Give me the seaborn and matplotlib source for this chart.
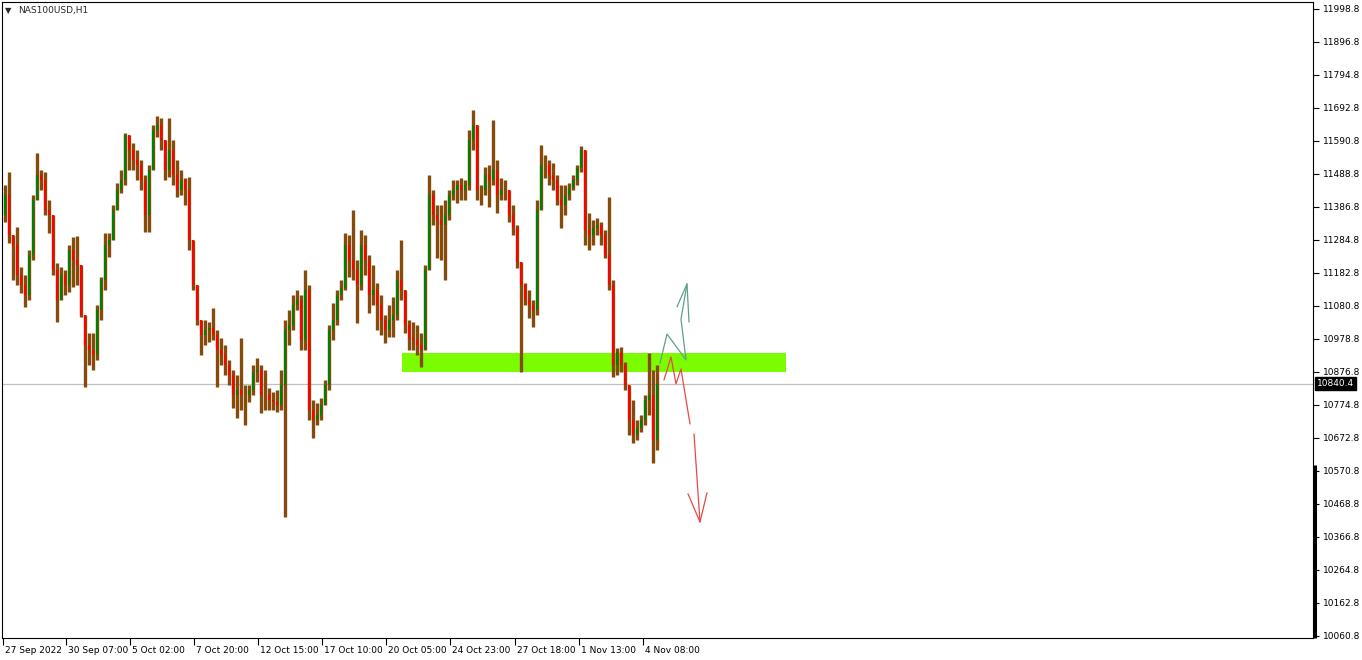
import numpy as np
import pandas as pd
import matplotlib
matplotlib.use("Agg")
import matplotlib.pyplot as plt
import matplotlib.transforms as mtransforms
from matplotlib.patches import Rectangle
import seaborn as sns

symbol = "NAS100USD,H1"
last_price = 10840.4
first_open = 11362

# 4-hour blocks (price units)
highs = [11455, 11495, 11294, 11325, 11201, 11177, 11254, 11424, 11554, 11501,
         11495, 11408, 11362, 11214, 11201, 11192, 11269, 11294, 11297, 11207,
         11022, 10997, 10997, 11084, 11170, 11306, 11306, 11393, 11461, 11501,
         11616, 11603, 11585, 11563, 11532, 11486, 11517, 11640, 11668, 11662,
         11594, 11662, 11594, 11532, 11501, 11476, 11479, 11285, 11146, 11037,
         11037, 11031, 11075, 11007, 10982, 10960, 10914, 10883, 10867, 10982,
         10836, 10836, 10898, 10920, 10898, 10883, 10827, 10815, 10821, 10883,
         11037, 11068, 11115, 11130, 11115, 11192, 11146, 10790, 10781, 10796,
         10852, 11022, 11090, 11130, 11161, 11306, 11300, 11377, 11223, 11316,
         11300, 11238, 11207, 11152, 11115, 11053, 11084, 11109, 11192, 11285,
         11105, 11037, 11031, 11022, 10997, 11207, 11486, 11439, 11393, 11393,
         11408, 11439, 11470, 11470, 11476, 11470, 11625, 11687, 11640, 11455,
         11510, 11517, 11656, 11532, 11476, 11470, 11424, 11393, 11331, 11217,
         11152, 11130, 11099, 11408, 11578, 11547, 11532, 11523, 11486, 11455,
         11455, 11461, 11486, 11517, 11575, 11563, 11368, 11347, 11353, 11340,
         11316, 11418, 11161, 10951, 10954, 10908, 10836, 10790, 10728, 10744,
         10806, 10935, 10883, 10898]

lows = [11340, 11275, 11161, 11146, 11121, 11078, 11099, 11223, 11408, 11439,
        11362, 11306, 11177, 11031, 11130, 11115, 11124, 11139, 11146, 11047,
        10830, 10898, 10883, 10914, 11037, 11130, 11232, 11285, 11377, 11430,
        11455, 11501, 11501, 11470, 11439, 11309, 11309, 11532, 11603, 11563,
        11470, 11479, 11455, 11418, 11424, 11393, 11254, 11130, 11022, 10929,
        10960, 10969, 10976, 10830, 10898, 10867, 10836, 10765, 10734, 10759,
        10713, 10784, 10806, 10846, 10750, 10759, 10759, 10759, 10753, 10759,
        10428, 10960, 11007, 11068, 10945, 10945, 10728, 10673, 10713, 10728,
        10775, 10821, 10976, 11022, 11099, 11130, 11170, 11161, 11028, 11130,
        11177, 11059, 11084, 11007, 10991, 10966, 10985, 10985, 11037, 11099,
        10997, 10945, 10945, 10929, 10892, 10960, 11192, 11331, 11229, 11223,
        11161, 11347, 11408, 11399, 11408, 11408, 11439, 11563, 11408, 11393,
        11424, 11387, 11455, 11368, 11408, 11408, 11340, 11300, 11198, 10877,
        11084, 11044, 11016, 11053, 11377, 11476, 11455, 11439, 11393, 11322,
        11362, 11408, 11439, 11455, 11495, 11269, 11254, 11269, 11300, 11269,
        11229, 11130, 10861, 10867, 10877, 10821, 10682, 10657, 10666, 10691,
        10713, 10744, 10595, 10636]

closes = [11424, 11300, 11269, 11177, 11146, 11115, 11238, 11408, 11486, 11470,
          11377, 11362, 11192, 11099, 11177, 11146, 11254, 11223, 11207, 11053,
          10960, 10945, 10929, 11068, 11161, 11269, 11285, 11377, 11439, 11470,
          11609, 11563, 11532, 11517, 11470, 11362, 11501, 11625, 11640, 11594,
          11501, 11563, 11486, 11439, 11470, 11439, 11285, 11146, 11037, 10991,
          11007, 11013, 10991, 10945, 10929, 10898, 10867, 10806, 10821, 10806,
          10806, 10821, 10877, 10883, 10806, 10806, 10790, 10784, 10775, 10836,
          11007, 11022, 11084, 11099, 10976, 11130, 10759, 10728, 10744, 10775,
          10836, 11007, 11037, 11115, 11136, 11269, 11223, 11192, 11146, 11269,
          11223, 11115, 11130, 11084, 11037, 11007, 11037, 11053, 11161, 11130,
          11022, 10982, 10976, 10960, 10945, 11192, 11424, 11362, 11347, 11331,
          11362, 11424, 11439, 11455, 11439, 11455, 11594, 11640, 11439, 11439,
          11486, 11470, 11501, 11424, 11439, 11439, 11362, 11322, 11217, 11146,
          11099, 11084, 11068, 11377, 11517, 11517, 11486, 11470, 11408, 11393,
          11424, 11445, 11470, 11507, 11563, 11316, 11300, 11322, 11331, 11300,
          11238, 11146, 10898, 10939, 10898, 10836, 10728, 10682, 10704, 10728,
          10790, 10806, 10666, 10840.4]

date_ticks = [0, 63, 127, 191, 255, 319, 383, 447, 512, 576, 640]
date_labels = ["27 Sep 2022", "30 Sep 07:00", "5 Oct 02:00", "7 Oct 20:00",
               "12 Oct 15:00", "17 Oct 10:00", "20 Oct 05:00", "24 Oct 23:00",
               "27 Oct 18:00", "1 Nov 13:00", "4 Nov 08:00"]
price_ticks = [11998.8, 11896.8, 11794.8, 11692.8, 11590.8, 11488.8, 11386.8,
               11284.8, 11182.8, 11080.8, 10978.8, 10876.8, 10774.8, 10672.8,
               10570.8, 10468.8, 10366.8, 10264.8, 10162.8, 10060.8]

# support zone (bar index, price)
zone_start, zone_end = 399, 783
zone_low, zone_high = 10876.7, 10935.5

# hand drawn scenario arrows (bar index, price)
up_path_x = [657, 664, 683, 678, 684]
up_path_y = [10904, 10994, 10914, 11040, 11149]
up_head_x = [674, 684, 686]
up_head_y = [11078, 11149, 11031]
down_path_x = [661, 668, 673, 678, 687]
down_path_y = [10852, 10923, 10840, 10886, 10716]
down_tail_x = [691, 697]
down_tail_y = [10685, 10413]
down_head_x = [685, 697, 704]
down_head_y = [10500, 10413, 10503]

df = pd.DataFrame({"high": highs, "low": lows, "close": closes})
df["open"] = [first_open] + closes[:-1]
df["bar"] = np.arange(len(df)) * 4 + 1.5
df["top"] = df[["high", "open", "close"]].max(axis=1)
df["bottom"] = df[["low", "open", "close"]].min(axis=1)
up = df["close"] >= df["open"]

sns.set_theme(style="white")
plt.rcParams["font.family"] = ["DejaVu Sans"]

fig = plt.figure(figsize=(13.62, 6.60), dpi=100)
ax = fig.add_axes([2 / 1362, 22 / 660, 1311 / 1362, 636 / 660])

ax.add_patch(Rectangle((zone_start, zone_low), zone_end - zone_start, zone_high - zone_low,
                       facecolor="#7cfc00", edgecolor="none", zorder=1))
ax.axhline(last_price, color="#c0c0c0", lw=0.9, zorder=1)

ax.vlines(df["bar"], df["bottom"], df["top"], color="#854b0b", lw=2.4, zorder=2)
ax.vlines(df["bar"][up], df["open"][up], df["close"][up], color="#008000", lw=1.5, zorder=3)
ax.vlines(df["bar"][~up], df["close"][~up], df["open"][~up], color="#ff0000", lw=1.5, zorder=3)

teal = "#5fa08c"
red = "#e84848"
for xs, ys, c in [(up_path_x, up_path_y, teal), (up_head_x, up_head_y, teal),
                  (down_path_x, down_path_y, red), (down_tail_x, down_tail_y, red),
                  (down_head_x, down_head_y, red)]:
    sns.lineplot(x=xs, y=ys, sort=False, estimator=None, color=c, lw=0.9, ax=ax, zorder=4)

ax.set_xlim(-1, 1310)
ax.set_ylim(10054.3, 12020.4)

ax.yaxis.tick_right()
ax.set_yticks(price_ticks, labels=[f"{v:.1f}" for v in price_ticks])
ax.tick_params(axis="y", direction="out", length=4, width=0.8, pad=3,
               labelsize=6.5, colors="black", right=True, left=False)
ax.set_xticks(date_ticks, labels=date_labels)
ax.tick_params(axis="x", direction="out", length=5, width=0.8, pad=1,
               labelsize=6.5, colors="black", bottom=True)
shift = mtransforms.ScaledTranslation(2 / 100, 0, fig.dpi_scale_trans)
for lbl in ax.get_xticklabels():
    lbl.set_ha("left")
    lbl.set_transform(lbl.get_transform() + shift)

for s in ax.spines.values():
    s.set_color("black")
    s.set_linewidth(0.8)

# scroll marker on the price scale
ax.plot([1.0015, 1.0015], [0, 0.272], transform=ax.transAxes, color="black",
        lw=2.2, clip_on=False, solid_capstyle="butt")

ax.text(1.0028, last_price, f"{last_price:.1f}", transform=ax.get_yaxis_transform(),
        ha="left", va="center", color="white", fontsize=6.5,
        bbox=dict(boxstyle="square,pad=0.2", fc="black", ec="black"))

fig.text(5 / 1362, 1 - 11 / 660, "\u25bc", fontsize=6, va="center", ha="left")
fig.text(18 / 1362, 1 - 11 / 660, symbol, fontsize=6.5, va="center", ha="left")

fig.savefig("out.png", dpi=100)
